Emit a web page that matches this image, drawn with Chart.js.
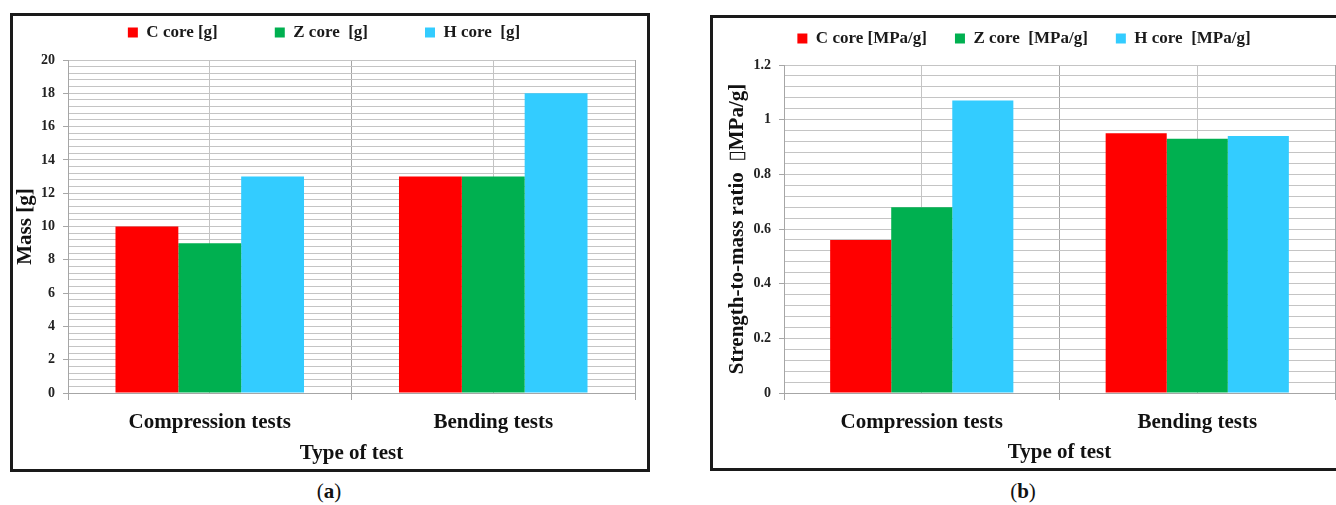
<!DOCTYPE html>
<html>
<head>
<meta charset="utf-8">
<script src="https://cdn.jsdelivr.net/npm/chart.js@4.4.1/dist/chart.umd.min.js"></script>
<style>
  html, body { margin: 0; padding: 0; background: #fff; }
  body { width: 1336px; height: 505px; position: relative; overflow: hidden; font-family: 'Liberation Serif', serif; }
  .box { position: absolute; border: 3px solid #1a1a1a; background: #fff; }
  #boxA { left: 10px; top: 13px; width: 634px; height: 453px; }
  #boxB { left: 710px; top: 15px; width: 626px; height: 450px; border-right: none; }
  canvas { display: block; }
  .cap { position: absolute; top: 479px; font-size: 21px; color: #111; transform: translateX(-50%); }
  .cap b { font-weight: bold; }
</style>
</head>
<body>
<div class="box" id="boxA"><canvas id="massChart" width="634" height="453"></canvas></div>
<div class="box" id="boxB"><canvas id="ratioChart" width="623" height="450"></canvas></div>
<div class="cap" style="left:329px">(<b>a</b>)</div>
<div class="cap" style="left:1023px">(<b>b</b>)</div>
<script>
// data
const testTypes = ['Compression tests', 'Bending tests'];
const massSeries = ['C core [g]', 'Z core  [g]', 'H core  [g]'];
const massC = [10, 13];
const massZ = [9, 13];
const massH = [13, 18];
const ratioSeries = ['C core [MPa/g]', 'Z core  [MPa/g]', 'H core  [MPa/g]'];
const ratioC = [0.56, 0.95];
const ratioZ = [0.68, 0.93];
const ratioH = [1.07, 0.94];
const coreColors = ['#ff0000', '#00b050', '#33ccff'];

Chart.defaults.font.family = "'Liberation Serif', 'DejaVu Serif', serif";
Chart.defaults.font.weight = 'bold';
Chart.defaults.color = '#1a1a1a';

// legend: fixed box height + move items up (padding is used for the horizontal gap)
const legendFit = (height, shift) => ({
    id: 'legendFit',
    afterInit(chart) {
        const lg = chart.legend;
        const fit = lg.fit;
        lg.fit = function() {
            fit.call(this);
            this.height = height;
        };
    },
    afterLayout(chart) {
        // only the top moves, the clip area keeps its bottom
        chart.legend.top += shift;
    }
});

const makeChart = (canvasId, cfg) => {
    const isMajor = v => Math.abs(v / cfg.major - Math.round(v / cfg.major)) < 1e-6;
    return new Chart(document.getElementById(canvasId), {
        type: 'bar',
        data: {
            labels: testTypes,
            datasets: cfg.values.map((vals, i) => ({
                label: cfg.series[i],
                data: vals,
                backgroundColor: coreColors[i],
                borderWidth: 0,
                xAxisID: 'x',
                categoryPercentage: 0.665,
                barPercentage: 1.0
            }))
        },
        options: {
            responsive: false,
            animation: false,
            devicePixelRatio: 1,
            layout: { padding: { top: 0, left: 0, right: cfg.padRight, bottom: 0 } },
            plugins: {
                tooltip: { enabled: false },
                legend: {
                    position: 'top',
                    labels: {
                        boxWidth: 10,
                        boxHeight: 10,
                        padding: cfg.legendGap,
                        color: '#1a1a1a',
                        font: { size: 17, weight: 'bold' }
                    }
                }
            },
            scales: {
                x: {
                    offset: true,
                    grid: { offset: true, color: '#a6a6a6', tickLength: 7, tickColor: '#a6a6a6' },
                    border: { color: '#a6a6a6' },
                    ticks: { padding: 10, font: { size: 21 }, color: '#111' },
                    title: { display: true, text: 'Type of test', font: { size: 21 }, color: '#111', padding: { top: 0, bottom: 3 } },
                    afterFit: s => { s.height = cfg.xHeight; }
                },
                x2: {
                    position: 'bottom',
                    offset: true,
                    grid: { offset: false, color: '#c4c4c4', drawTicks: false },
                    border: { display: false },
                    ticks: { display: false }
                },
                y: {
                    min: 0,
                    max: cfg.max,
                    grid: {
                        color: '#c4c4c4',
                        tickLength: 5,
                        tickColor: ctx => isMajor(ctx.tick.value) ? '#a6a6a6' : 'rgba(0,0,0,0)'
                    },
                    border: { color: '#a6a6a6' },
                    ticks: {
                        stepSize: cfg.minor,
                        autoSkip: false,
                        padding: 8,
                        font: { size: 14 },
                        color: '#222',
                        callback: v => isMajor(v) ? String(Math.round(v * 10) / 10) : ''
                    },
                    title: { display: true, text: cfg.yTitle, font: { size: 21 }, color: '#111', padding: { top: cfg.yTitlePad, bottom: 0 } },
                    afterFit: s => { s.width = cfg.yWidth; }
                }
            }
        },
        plugins: [legendFit(cfg.legendHeight, cfg.legendShift)]
    });
};

// (a) mass
makeChart('massChart', {
    series: massSeries,
    values: [massC, massZ, massH],
    max: 20, major: 2, minor: 0.4,
    yTitle: 'Mass [g]',
    yTitlePad: 0,
    yWidth: 55,
    xHeight: 76,
    padRight: 12,
    legendGap: 57,
    legendHeight: 44,
    legendShift: -49
});

// (b) strength-to-mass ratio
makeChart('ratioChart', {
    series: ratioSeries,
    values: [ratioC, ratioZ, ratioH],
    max: 1.2, major: 0.2, minor: 0.04,
    yTitle: 'Strength-to-mass ratio  \u25AFMPa/g]',
    yTitlePad: 12,
    yWidth: 71,
    xHeight: 75,
    padRight: 1,
    legendGap: 28,
    legendHeight: 47,
    legendShift: -16
});
</script>
</body>
</html>
